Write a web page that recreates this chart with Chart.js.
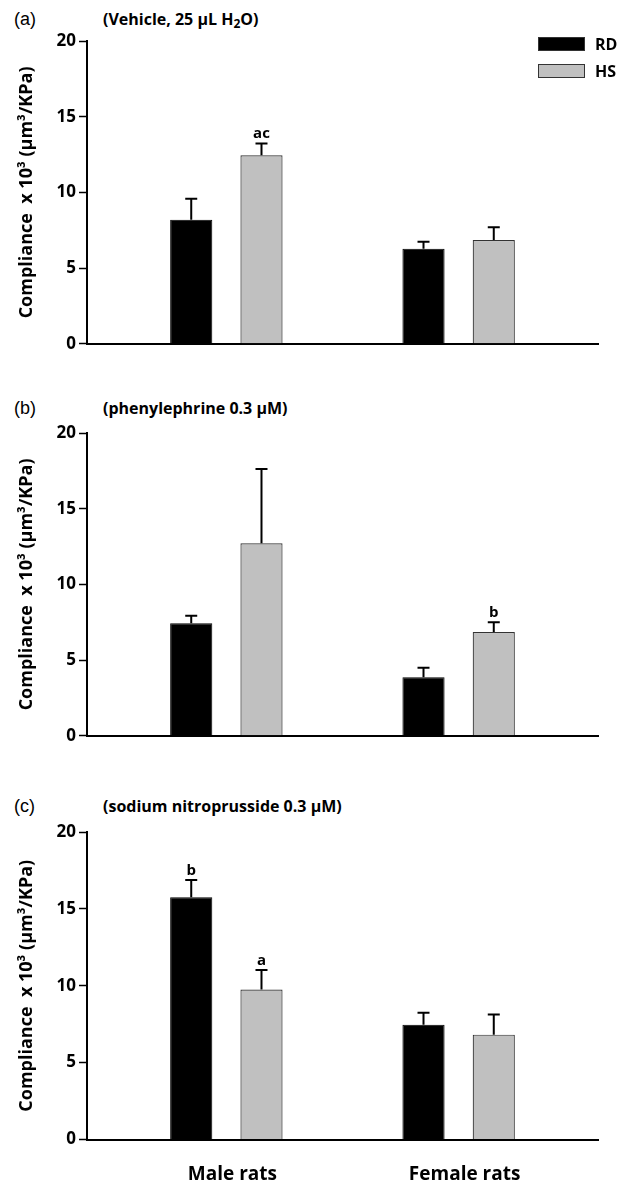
<!DOCTYPE html>
<html>
<head>
<meta charset="utf-8">
<script src="https://cdn.jsdelivr.net/npm/chart.js@4.4.1/dist/chart.umd.min.js"></script>
<style>
    body { margin: 0; background: #fff; }
    #page { position: relative; width: 629px; height: 1184px; overflow: hidden; }
    canvas { position: absolute; left: 0; }
    .tag { position: absolute; left: 14px; font: 18px "Liberation Sans", Arial, sans-serif; line-height: 20px; color: #000; }
    .sub { position: absolute; left: 103px; font: bold 16px "Open Sans", sans-serif; line-height: 20px; color: #000; }
    .sub sub { font-size: 12px; vertical-align: -3px; line-height: 0; }
</style>
</head>
<body>
<div id="page">
    <div class="tag" style="top:9px">(a)</div>
    <div class="sub" style="top:9px">(Vehicle, 25 µL H<sub>2</sub>O)</div>
    <canvas id="chartA" width="629" height="346" style="top:11px"></canvas>

    <div class="tag" style="top:398px">(b)</div>
    <div class="sub" style="top:398px">(phenylephrine 0.3 µM)</div>
    <canvas id="chartB" width="629" height="346" style="top:403px"></canvas>

    <div class="tag" style="top:796px">(c)</div>
    <div class="sub" style="top:796px">(sodium nitroprusside 0.3 µM)</div>
    <canvas id="chartC" width="629" height="382" style="top:802px"></canvas>
</div>
<script>
const groups = ['Male rats', 'Female rats'];
const series = ['RD', 'HS'];
const yTicks = [0, 5, 10, 15, 20];

// (a) vehicle, 25 uL H2O
const vehRD = [8.2, 6.27];
const vehRDErr = [1.38, 0.47];
const vehHS = [12.45, 6.86];
const vehHSErr = [0.78, 0.83];
const vehRDMarks = ['', ''];
const vehHSMarks = ['ac', ''];

// (b) phenylephrine 0.3 uM
const pheRD = [7.43, 3.87];
const pheRDErr = [0.5, 0.63];
const pheHS = [12.72, 6.85];
const pheHSErr = [4.91, 0.65];
const pheRDMarks = ['', ''];
const pheHSMarks = ['', 'b'];

// (c) sodium nitroprusside 0.3 uM
const snpRD = [15.75, 7.47];
const snpRDErr = [1.13, 0.77];
const snpHS = [9.76, 6.82];
const snpHSErr = [1.26, 1.31];
const snpRDMarks = ['b', ''];
const snpHSMarks = ['a', ''];

const FONT = '"Open Sans", Lato, sans-serif';

// error bars (mean + SEM) and significance letters
const errorBars = {
    id: 'errorBars',
    afterDatasetsDraw(chart) {
        const ctx = chart.ctx;
        const yScale = chart.scales.y;
        chart.data.datasets.forEach((ds, i) => {
            chart.getDatasetMeta(i).data.forEach((bar, j) => {
                const top = yScale.getPixelForValue(ds.data[j].y + ds.errors[j]);
                ctx.save();
                ctx.strokeStyle = '#000';
                ctx.lineWidth = 2;
                ctx.beginPath();
                ctx.moveTo(bar.x, bar.y);
                ctx.lineTo(bar.x, top);
                ctx.moveTo(bar.x - 6, top);
                ctx.lineTo(bar.x + 6, top);
                ctx.stroke();
                if (ds.marks[j]) {
                    ctx.fillStyle = '#000';
                    ctx.font = 'bold 15px ' + FONT;
                    ctx.textAlign = 'center';
                    ctx.textBaseline = 'alphabetic';
                    ctx.fillText(ds.marks[j], bar.x, top - 5);
                }
                ctx.restore();
            });
        });
    }
};

// legend boxes stacked in the top right corner
const boxLegend = {
    id: 'boxLegend',
    afterDraw(chart, args, opts) {
        if (!opts.show) return;
        const { ctx, chartArea } = chart;
        chart.data.datasets.forEach((ds, i) => {
            const bx = chartArea.right - 60;
            const by = chartArea.top - 4 + i * 27;
            ctx.save();
            ctx.fillStyle = ds.backgroundColor;
            ctx.fillRect(bx, by, 47, 14);
            ctx.strokeStyle = '#333';
            ctx.lineWidth = 1;
            ctx.strokeRect(bx + 0.5, by + 0.5, 46, 13);
            ctx.fillStyle = '#000';
            ctx.font = 'bold 16px ' + FONT;
            ctx.textAlign = 'left';
            ctx.textBaseline = 'middle';
            ctx.fillText(ds.label, bx + 57, by + 8);
            ctx.restore();
        });
    }
};

function makePanel(id, rd, rdErr, rdMarks, hs, hsErr, hsMarks, showGroups, showLegend, xHeight) {
    return new Chart(document.getElementById(id), {
        type: 'bar',
        data: {
            datasets: [{
                label: series[0],
                data: rd.map((v, i) => ({ x: i + 1, y: v })),
                errors: rdErr,
                marks: rdMarks,
                backgroundColor: '#000000',
                borderColor: '#000000',
                borderWidth: 1
            }, {
                label: series[1],
                data: hs.map((v, i) => ({ x: i + 1, y: v })),
                errors: hsErr,
                marks: hsMarks,
                backgroundColor: '#c0c0c0',
                borderColor: '#333333',
                borderWidth: 1.2
            }]
        },
        options: {
            responsive: false,
            animation: false,
            layout: { padding: { top: 30, right: 31, left: 0, bottom: 0 } },
            datasets: { bar: { categoryPercentage: 0.605, barPercentage: 0.6 } },
            plugins: {
                legend: { display: false },
                tooltip: { enabled: false },
                boxLegend: { show: showLegend }
            },
            scales: {
                x: {
                    type: 'linear',
                    min: 0.4,
                    max: 2.6,
                    offset: false,
                    afterBuildTicks: s => { s.ticks = groups.map((g, i) => ({ value: i + 1 })); },
                    afterFit: s => { s.height = xHeight; },
                    grid: { display: false, drawTicks: false },
                    border: { display: true, color: '#000', width: 2 },
                    ticks: {
                        display: showGroups,
                        padding: 24,
                        labelOffset: 6,
                        color: '#000',
                        font: { family: FONT, size: 19, weight: 'bold' },
                        callback: v => groups[v - 1] || ''
                    }
                },
                y: {
                    min: 0,
                    max: 20,
                    afterBuildTicks: s => { s.ticks = yTicks.map(v => ({ value: v })); },
                    afterFit: s => { s.width = 87; },
                    grid: { drawOnChartArea: false, tickLength: 8, tickColor: '#000', tickWidth: 1.5 },
                    border: { color: '#000', width: 2 },
                    ticks: {
                        padding: 3,
                        color: '#000',
                        font: { family: FONT, size: 17, weight: 'bold' }
                    },
                    title: {
                        display: true,
                        text: 'Compliance  x 10³ (µm³/KPa)',
                        color: '#000',
                        font: { family: FONT, size: 18, weight: 'bold' },
                        padding: { top: 16, bottom: 0 }
                    }
                }
            }
        },
        plugins: [errorBars, boxLegend]
    });
}

makePanel('chartA', vehRD, vehRDErr, vehRDMarks, vehHS, vehHSErr, vehHSMarks, false, true, 10);
makePanel('chartB', pheRD, pheRDErr, pheRDMarks, pheHS, pheHSErr, pheHSMarks, false, false, 9.5);
makePanel('chartC', snpRD, snpRDErr, snpRDMarks, snpHS, snpHSErr, snpHSMarks, true, false, 44.5);
</script>
</body>
</html>
